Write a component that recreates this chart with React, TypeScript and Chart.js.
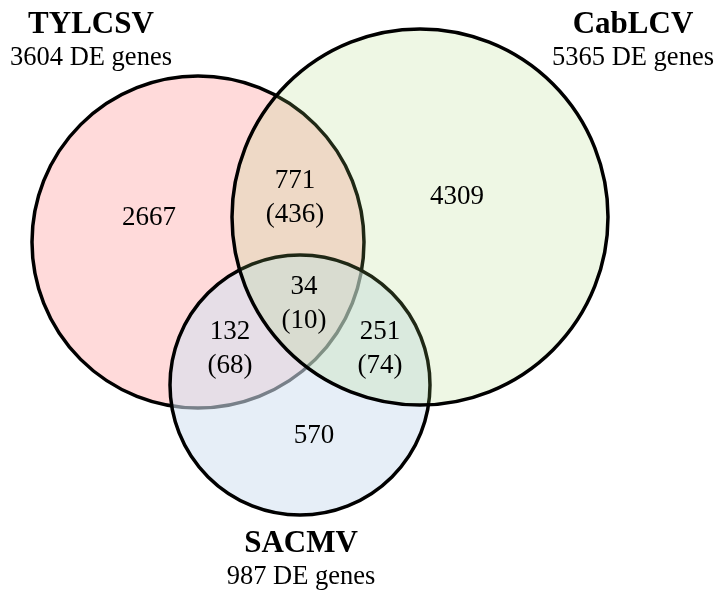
import React, { useEffect, useRef } from "react";
import { Chart, registerables } from "chart.js";

Chart.register(...registerables);

// ---- data ----
const setNames = ["TYLCSV", "CabLCV", "SACMV"];
const setTotals = [3604, 5365, 987];
// circle layout (data units = canvas pixels)
const circleX = [198, 420, 300];
const circleY = [242, 217, 385];
const circleR = [166, 188, 130];
const circleFill = ["rgba(255,218,218,1)", "rgba(165,213,113,0.19)", "rgba(211,225,241,0.57)"];
const drawOrder = [3, 1, 2]; // higher drawn first

// region counts: TYLCSV only, TY∩Cab, Cab only, TY∩SA, all, Cab∩SA, SA only
const regionCounts = [2667, 771, 4309, 132, 34, 251, 570];
const regionSub = [null, 436, null, 68, 10, 74, null];
const regionX = [149, 295, 457, 230, 304, 380, 314];
const regionY = [225, 188, 204, 339, 294, 339, 443];

const nameX = [91, 633, 301];
const nameY = [33, 33, 552];
const totalY = [65, 65, 584];

const W = 715;
const H = 594;
const BORDER = 3.5;
// bubble charts pad the chart area by the largest bubble (radius + border);
// choose scale limits so 1 data unit = 1 canvas pixel from the canvas origin
const PAD = Math.max(...circleR) + BORDER;

const SERIF = "'Liberation Serif', 'Times New Roman', serif";

const labelPlugin = {
  id: "vennLabels",
  afterDatasetsDraw(chart: any) {
    const ctx = chart.ctx;
    const xs = chart.scales.x;
    const ys = chart.scales.y;
    ctx.save();
    ctx.fillStyle = "#000";
    ctx.textAlign = "center";
    ctx.textBaseline = "alphabetic";
    ctx.font = "27px " + SERIF;
    regionCounts.forEach((c, i) => {
      const px = xs.getPixelForValue(regionX[i]);
      const py = ys.getPixelForValue(regionY[i]);
      ctx.fillText(String(c), px, py);
      if (regionSub[i] !== null) {
        ctx.fillText("(" + regionSub[i] + ")", px, py + 34);
      }
    });
    setNames.forEach((n, i) => {
      const px = xs.getPixelForValue(nameX[i]);
      ctx.font = "bold 31px " + SERIF;
      ctx.fillText(n, px, ys.getPixelForValue(nameY[i]));
      ctx.font = "26.5px " + SERIF;
      ctx.fillText(setTotals[i] + " DE genes", px, ys.getPixelForValue(totalY[i]));
    });
    ctx.restore();
  },
};

export default function App() {
  const ref = useRef<HTMLCanvasElement>(null);
  useEffect(() => {
    if (!ref.current) return;
    const chart = new Chart(ref.current, {
      type: "bubble",
      data: {
        datasets: setNames.map((n, i) => ({
          label: n,
          data: [{ x: circleX[i], y: circleY[i], r: circleR[i] }],
          backgroundColor: circleFill[i],
          borderColor: "#000",
          borderWidth: BORDER,
          hoverRadius: 0,
          order: drawOrder[i],
          clip: false as any,
        })),
      },
      options: {
        animation: false,
        responsive: false,
        events: [],
        layout: { padding: 0 },
        plugins: { legend: { display: false }, tooltip: { enabled: false }, title: { display: false } },
        scales: {
          x: { type: "linear", min: PAD, max: W - PAD, display: false },
          y: { type: "linear", min: PAD, max: H - PAD, reverse: true, display: false },
        },
      },
      plugins: [labelPlugin],
    });
    return () => chart.destroy();
  }, []);
  return (
    <div style={{ position: "fixed", left: 0, top: 0, width: W, height: H, background: "#fff" }}>
      <canvas ref={ref} width={W} height={H} style={{ display: "block" }} />
    </div>
  );
}
